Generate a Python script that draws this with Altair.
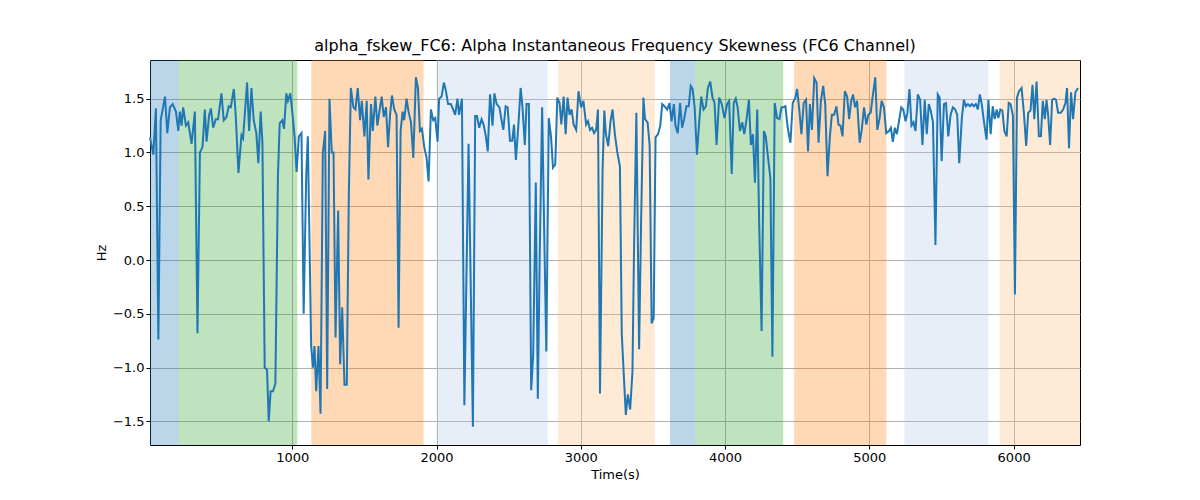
import altair as alt
import pandas as pd

span_start = [14, 215, 1132, 2000, 2840, 3618, 3792, 4479, 5243, 5903]
span_end = [215, 1035, 1910, 2771, 3514, 3792, 4403, 5118, 5826, 6460]
span_kind = ['a', 'b', 'c', 'd', 'e', 'a', 'b', 'c', 'd', 'e']
span_colors = ['#1f77b4', '#2ca02c', '#ff7f0e', '#aec7e8', '#ffbb78']

time_s = [14, 37, 55, 72, 88, 118, 134, 152, 171, 194, 210, 221, 233, 244, 263, 279, 302, 325, 343, 360,
          378, 394, 406, 424, 436, 452, 470, 486, 509, 525, 544, 560, 574, 595, 608, 627, 648, 659, 687, 701,
          717, 733, 751, 765, 781, 793, 809, 825, 837, 850, 866, 883, 901, 913, 931, 943, 959, 970, 986, 1000,
          1016, 1030, 1046, 1064, 1079, 1097, 1108, 1131, 1143, 1154, 1166, 1182, 1196, 1212, 1228, 1242, 1258,
          1274, 1286, 1300, 1318, 1332, 1346, 1362, 1378, 1392, 1406, 1424, 1438, 1454, 1470, 1482, 1500, 1516,
          1528, 1546, 1558, 1576, 1590, 1604, 1620, 1634, 1650, 1664, 1678, 1691, 1707, 1723, 1737, 1751, 1765,
          1776, 1792, 1806, 1823, 1839, 1857, 1871, 1885, 1899, 1915, 1931, 1945, 1961, 1977, 1991, 2007, 2018,
          2035, 2051, 2064, 2080, 2099, 2115, 2129, 2145, 2156,
          2176, 2193, 2222, 2252, 2268, 2280, 2296, 2312, 2326, 2342, 2355, 2371, 2388, 2401, 2417, 2436, 2452,
          2463, 2479, 2493, 2509, 2525, 2537, 2550, 2566, 2583, 2596, 2612, 2624, 2640, 2656, 2670, 2688, 2702,
          2716, 2732, 2745, 2761, 2778, 2794, 2807, 2823, 2837, 2853, 2865, 2881, 2895, 2908, 2922, 2936, 2950,
          2968, 2984, 3002, 3018, 3037, 3050, 3064, 3078, 3092, 3106, 3119, 3133, 3151, 3163, 3174, 3190, 3206,
          3220, 3236, 3252, 3271, 3284, 3298, 3312, 3326, 3342, 3358, 3369, 3385, 3404, 3418, 3434, 3445, 3463,
          3477, 3491, 3505, 3518, 3535, 3551, 3564, 3580, 3599, 3615, 3629, 3645, 3656, 3672, 3688, 3702, 3716,
          3732, 3748, 3762, 3775, 3789, 3805, 3821, 3835, 3851, 3867, 3881, 3897, 3913, 3927, 3941, 3959, 3977,
          3996, 4014, 4028, 4046, 4060, 4074, 4087, 4103, 4119, 4133, 4149, 4165, 4179, 4193, 4207, 4223, 4236,
          4253, 4269, 4282, 4298, 4314, 4328, 4344, 4360,
          4377, 4391, 4405, 4418, 4434, 4453, 4469, 4487, 4499, 4515, 4529, 4545, 4561, 4575, 4588, 4602, 4618,
          4634, 4648, 4664, 4680, 4694, 4710, 4726, 4740, 4756, 4772, 4786, 4800, 4814, 4830, 4846, 4860, 4874,
          4887, 4901, 4915, 4933, 4947, 4963, 4979, 4993, 5009, 5025, 5041, 5055, 5071, 5085, 5101, 5117, 5136,
          5149, 5163, 5177, 5191, 5205, 5221, 5235, 5251, 5264, 5278, 5292, 5306, 5320, 5336, 5352, 5368, 5384,
          5398, 5412, 5425, 5441, 5458, 5474, 5487, 5501, 5517, 5531, 5547, 5563, 5579, 5595, 5609, 5623, 5641,
          5655, 5669, 5683, 5697, 5710, 5724, 5738, 5752, 5766, 5779, 5795, 5812, 5825, 5841, 5855, 5869, 5883,
          5894, 5908, 5922, 5936, 5952, 5966, 5979, 5995, 6009, 6023, 6037, 6055, 6071, 6087, 6101, 6117, 6131,
          6143, 6159, 6175, 6189, 6202, 6216, 6228, 6239, 6253, 6267, 6281, 6294, 6308, 6327, 6343, 6359, 6370,
          6384, 6398, 6412, 6428, 6446]

skew_hz = [1.14, 0.98, 1.41, -0.74, 1.30, 1.52, 1.18, 1.42, 1.45, 1.38, 1.20, 1.38, 1.25, 1.42, 1.25, 1.28, 1.08, 1.38, -0.68, 1.00,
           1.05, 1.40, 1.10, 1.35, 1.41, 1.23, 1.31, 1.31, 1.55, 1.30, 1.33, 1.43, 1.42, 1.59, 1.35, 0.81, 1.16, 1.13, 1.65, 1.20,
           1.60, 1.30, 1.18, 0.90, 1.38, 1.10, -1.00, -1.02, -1.50, -1.22, -1.22, -1.15, 0.80, 1.27, 1.30, 1.22, 1.55, 1.48, 1.55, 1.38,
           1.15, 0.82, 1.15, 1.18, -0.50, 0.80, 1.15, -0.80, -1.00, -0.80, -1.22, -0.80, -1.43, 1.00, 1.20, -1.20, 1.50,
           1.00, 1.00, -0.72, 0.46, -0.97, -0.44, -1.16, -1.16, 0.60, 1.60, 1.42, 1.40, 1.60, 1.30, 1.48, 1.15, 1.48,
           0.75, 1.45, 1.20, 1.52, 1.25, 1.38, 1.52, 1.33, 1.42, 1.05, 1.35, 1.53, 1.40, 1.35, -0.63, 1.20, 1.38,
           1.30, 1.50, 1.38, 1.28, 0.95, 1.70, 1.60, 1.20, 1.22, 1.05, 0.95, 0.73, 1.40, 1.30, 1.32, 1.10, 1.50,
           1.52, 1.65, 1.58, 1.45, 1.45, 1.40, 1.35, 1.50, 1.35,
           1.50, -1.35, 1.08, -1.55, 1.34, 1.34, 1.23, 1.31, 1.26, 1.15, 1.01, 1.54, 1.25, 1.55, 1.45, 1.42, 1.29,
           1.21, 1.43, 1.42, 1.11, 1.11, 1.26, 0.93, 1.23, 1.60, 1.42, 1.07, 1.45, 1.45, -1.21, -0.88, 0.72, -1.29,
           0.11, 1.42, 0.36, -0.85, 1.32, 1.14, 0.86, 0.89, 1.51, 1.46, 1.26, 1.52, 1.17, 1.51, 1.35, 1.40, 1.26,
           1.21, 1.57, 1.42, 1.48, 1.26, 1.29, 1.21, 1.23, 1.18, 1.21, 1.40, -1.24, 0.84, 1.39, 1.17, 1.06, 1.29,
           1.40, 1.17, 1.01, 0.87, -0.69, -1.07, -1.44, -1.25, -1.39, -1.04, 0.11, 1.37, -0.83, 0.36, 1.51, 1.31,
           1.28, 1.07, -0.59, -0.54, 1.14, 1.17, 1.25, 1.45, 1.43, 1.40, 1.46, 1.29, 1.45, 1.25, 1.18, 1.46, 1.23,
           1.31, 1.43, 1.43, 1.62, 1.59, 1.42, 0.98, 1.29, 1.52, 1.40, 1.43, 1.60, 1.66, 1.51, 1.46, 1.07, 1.51,
           1.45, 1.32, 1.45, 1.48, 0.80, 1.46, 1.50, 1.42, 1.20, 1.28, 1.17, 1.31, 1.49, 1.07, 1.17, 0.72, 1.40,
           0.36, -0.66, 1.20, 1.15, 0.95, 0.76, -0.90, 1.46, 1.32,
           1.31, 1.42, 1.42, 1.43, 1.23, 1.09, 1.46, 1.51, 1.59, 1.39, 1.17, 1.46, 1.49, 1.01, 1.45, 1.21, 1.69,
           1.65, 1.09, 1.48, 1.62, 1.45, 0.78, 1.14, 1.35, 1.35, 1.43, 1.26, 1.25, 1.15, 1.57, 1.52, 1.31, 1.48,
           1.54, 1.42, 1.48, 1.09, 1.21, 1.42, 1.26, 1.35, 1.37, 1.54, 1.70, 1.21, 1.32, 1.48, 1.42, 1.18, 1.20,
           1.23, 1.10, 1.23, 1.17, 1.29, 1.42, 1.40, 1.29, 1.37, 1.59, 1.25, 1.28, 1.20, 1.54, 1.49, 1.07, 1.49,
           1.17, 1.45, 1.39, 1.28, 0.14, 1.54, 1.51, 0.92, 1.45, 1.46, 1.15, 1.35, 1.42, 1.40, 1.35, 0.90, 1.32,
           1.49, 1.43, 1.45, 1.43, 1.45, 1.43, 1.45, 1.40, 1.54, 1.45, 1.28, 1.12, 1.49, 1.17, 1.43, 1.31, 1.40,
           1.32, 1.40, 1.39, 1.20, 1.15, 1.46, 1.45, 1.34, -0.32, 1.51, 1.57, 1.60, 1.37, 1.06, 1.37, 1.39, 1.63,
           1.31, 1.66, 1.15, 1.15, 1.48, 1.31, 1.49, 1.35, 1.07, 1.49, 1.50, 1.49, 1.37, 1.37, 1.40, 1.46, 1.60,
           1.04, 1.56, 1.31, 1.56, 1.60]

line_df = pd.DataFrame({'Time': time_s, 'Hz': skew_hz})
span_df = pd.DataFrame({'start': span_start, 'end': span_end, 'kind': span_kind})

x_scale = alt.Scale(domain=[14, 6460], nice=False, zero=False)
y_scale = alt.Scale(domain=[-1.72, 1.86], nice=False, zero=False)

spans = alt.Chart(span_df).mark_rect(opacity=0.3).encode(
    x=alt.X('start:Q', scale=x_scale),
    x2='end:Q',
    color=alt.Color('kind:N', scale=alt.Scale(domain=['a', 'b', 'c', 'd', 'e'], range=span_colors), legend=None),
)

line = alt.Chart(line_df).mark_line(color='#1f77b4', strokeWidth=2).encode(
    x=alt.X('Time:Q', scale=x_scale, title='Time(s)',
            axis=alt.Axis(values=[1000, 2000, 3000, 4000, 5000, 6000], format='d')),
    y=alt.Y('Hz:Q', scale=y_scale, title='Hz',
            axis=alt.Axis(values=[-1.5, -1.0, -0.5, 0.0, 0.5, 1.0, 1.5], format='.1f')),
)

chart = alt.layer(spans, line).properties(
    width=930, height=385,
    title='alpha_fskew_FC6: Alpha Instantaneous Frequency Skewness (FC6 Channel)',
    autosize=alt.AutoSizeParams(type='none'),
    padding={'left': 142, 'top': 52, 'right': 10, 'bottom': 40},
).configure_view(stroke='black', strokeWidth=1).configure_axis(
    gridColor='#b0b0b0', gridOpacity=1, domain=False, tickColor='black', tickSize=4,
    labelFont='DejaVu Sans', labelFontSize=13, labelColor='black',
    titleFont='DejaVu Sans', titleFontSize=13, titleFontWeight='normal', titleColor='black',
).configure_title(font='DejaVu Sans', fontSize=16, fontWeight='normal', offset=6)

chart.save('out.html', embed_options={'renderer': 'svg', 'actions': False})
